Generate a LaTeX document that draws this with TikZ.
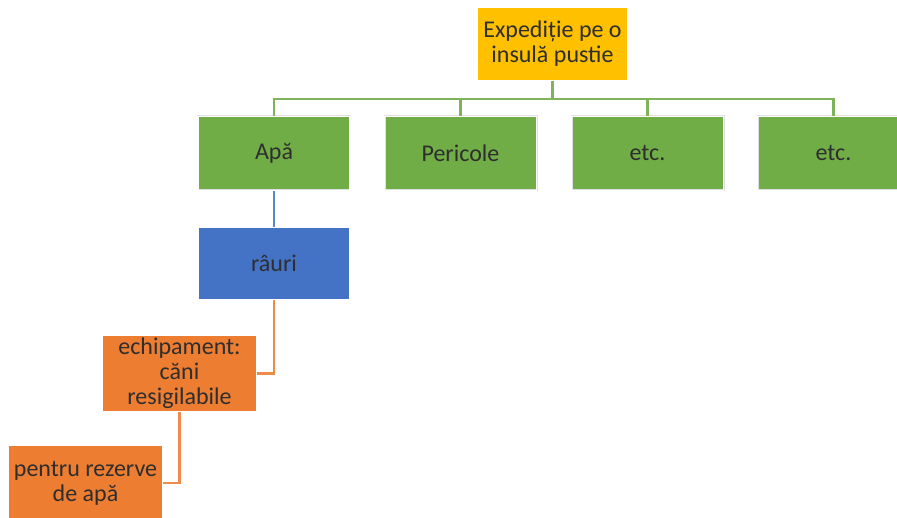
\documentclass[tikz,border=0pt]{standalone}
\usepackage{fontspec}
\setmainfont{Carlito}
\definecolor{cgold}{HTML}{FFC000}
\definecolor{cgreen}{HTML}{70AD47}
\definecolor{cblue}{HTML}{4472C4}
\definecolor{corange}{HTML}{ED7D31}
\definecolor{lgreen}{HTML}{7FB35A}
\definecolor{lblue}{HTML}{5B86D0}
\definecolor{lorange}{HTML}{EE8A4A}
\tikzset{
  box/.style={rectangle, draw=black!12, double=white, double distance=1.2pt, line width=0.4pt,
    inner sep=0pt, align=center, text=black!82,
    font=\fontsize{24}{25}\selectfont},
  conn/.style={line width=2.6pt},
}
\begin{document}
\begin{tikzpicture}[x=1pt,y=-1pt]
\useasboundingbox (0,0) rectangle (897,518);
\node[box, fill=cgold, minimum width=151pt, minimum height=74pt] (top) at (552.5,44) {Expediție pe o\\insulă pustie};
\node[box, fill=cgreen, minimum width=152pt, minimum height=74pt] (apa) at (274,153.5) {Apă};
\node[box, fill=cgreen, minimum width=152pt, minimum height=74pt] (per) at (460.5,153.5) {Pericole};
\node[box, fill=cgreen, minimum width=152pt, minimum height=74pt] (etc1) at (647.5,153.5) {etc.};
\node[box, fill=cgreen, minimum width=152pt, minimum height=74pt] (etc2) at (833.5,153.5) {etc.};
\node[box, fill=cblue, minimum width=152pt, minimum height=73pt] (rau) at (274,263.5) {râuri};
\node[box, fill=corange, minimum width=155pt, minimum height=77pt] (ech) at (179.5,373.5) {echipament:\\căni\\resigilabile};
\node[box, fill=corange, minimum width=155pt, minimum height=76pt] (pen) at (85.5,483) {pentru rezerve\\de apă};
\coordinate (bus) at (552.5,99);
\draw[conn, lgreen] (top.south) -- (bus);
\draw[conn, lgreen] (bus) -| (apa.north);
\draw[conn, lgreen] (bus) -| (per.north);
\draw[conn, lgreen] (bus) -| (etc1.north);
\draw[conn, lgreen] (bus) -| (etc2.north);
\draw[conn, lblue] (apa.south) -- (rau.north);
\draw[conn, lorange] (rau.south) |- (ech.east);
\draw[conn, lorange] (ech.south) |- (pen.east);
\end{tikzpicture}
\end{document}
